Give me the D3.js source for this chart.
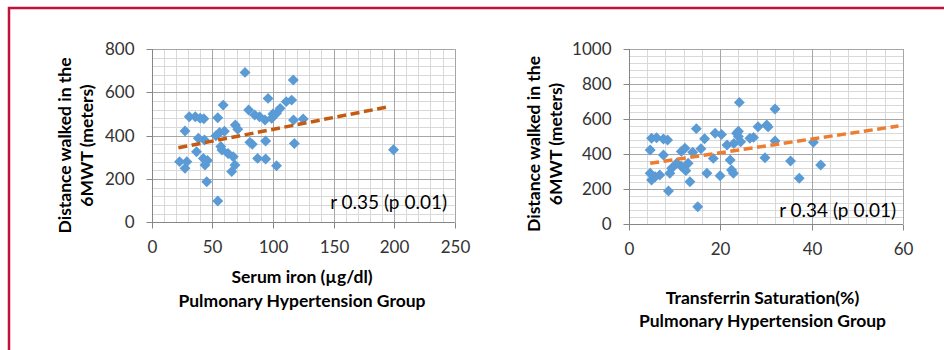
<!DOCTYPE html>
<html>
<head>
<meta charset="utf-8">
<title>6MWT vs iron</title>
<script src="https://cdn.jsdelivr.net/npm/d3@7"></script>
<style>
	body { margin: 0; background: #fff; }
	svg { display: block; font-family: Lato, "Open Sans", sans-serif; }
	.minor { stroke: #d9d9d9; stroke-width: 1; }
	.major { stroke: #a6a6a6; stroke-width: 1; }
	.axis path, .axis line { stroke: #868686; }
	.axis text { font-size: 17px; fill: #333; font-family: Lato, sans-serif; }
	.title { font-size: 17.5px; font-weight: bold; fill: #000; }
	.note { font-size: 19px; fill: #000; }
</style>
</head>
<body>
<svg id="chart" width="944" height="350"></svg>
<script>
// left panel: serum iron (µg/dl) vs distance (m)
var ironX = [77, 116.8, 96, 111, 115.5, 59, 31, 36, 40, 43, 54.5, 80, 85, 89, 93.5, 99, 103, 106, 117, 125,
	27.5, 69, 71, 38.5, 43.5, 56, 60, 53, 81, 83, 94, 117.7, 199.5, 58, 63, 67.3, 37, 23, 29, 27.5,
	42.6, 44, 46, 68.7, 66, 45.4, 54.5, 87.4, 94, 103, 57, 100]
var ironY = [692, 657, 572, 557, 564, 541, 487, 487, 480, 478, 483, 518, 495, 487, 472, 480, 503, 526, 472, 477,
	421, 449, 430, 388, 380, 415, 420, 400, 369, 360, 375, 364, 335, 334, 318, 303, 326, 280, 280, 249,
	295, 264, 285, 264, 234, 187, 98, 295, 292, 261, 350, 500]
var ironTrendX = [22, 196]
var ironTrendY = [344, 534]

// right panel: transferrin saturation (%) vs distance (m)
var satX = [24.2, 32, 14.8, 5, 6.1, 7.6, 8.5, 16.6, 18.9, 20.3, 23.6, 24, 26.5, 27.3, 28.3, 30.2, 30.5, 32,
	4.7, 7.6, 12.3, 11.5, 14, 15.8, 10.5, 9.4, 11.5, 12.5, 4.7, 5.8, 5, 6.8, 9, 8.7, 13.4, 13, 15.1,
	17.1, 20, 22.5, 22.9, 18.5, 22.2, 21.5, 23, 24.5, 29.8, 40.4, 35.4, 37.3, 42, 24]
var satY = [695, 657, 545, 490, 493, 486, 480, 487, 518, 512, 518, 500, 490, 495, 556, 566, 555, 475,
	423, 394, 433, 415, 410, 430, 347, 318, 330, 305, 290, 270, 251, 280, 290, 189, 242, 347, 99,
	290, 276, 309, 290, 375, 366, 451, 460, 470, 379, 467, 360, 261, 337, 530]
var satTrendX = [4.7, 59]
var satTrendY = [347, 560]

var ironXTicks = [0, 50, 100, 150, 200, 250]
var ironYTicks = [0, 200, 400, 600, 800]
var satXTicks = [0, 20, 40, 60]
var satYTicks = [0, 200, 400, 600, 800, 1000]

var yTitle = ['Distance walked in the', '6MWT (meters)']
var groupLabel = 'Pulmonary Hypertension Group'

var svg = d3.select('#chart')

// page frame
svg.append('path')
	.attr('d', 'M9,350V8H944')
	.attr('fill', 'none')
	.attr('stroke', '#c0123c')
	.attr('stroke-width', 2.5)

var diamond = d3.symbol().type(d3.symbolSquare).size(60)

function panel(o) {
	var x = d3.scaleLinear().domain(o.xDomain).range([o.left, o.right])
	var y = d3.scaleLinear().domain(o.yDomain).range([o.bottom, o.top])
	var g = svg.append('g')

	// minor + major grid
	g.selectAll('.mx').data(d3.range(o.xDomain[0], o.xDomain[1] + 0.001, o.xMinor))
		.enter().append('line').attr('class', 'minor')
		.attr('x1', function(d) { return Math.round(x(d)) + 0.5 })
		.attr('x2', function(d) { return Math.round(x(d)) + 0.5 })
		.attr('y1', o.top).attr('y2', o.bottom)
	g.selectAll('.my').data(d3.range(o.yDomain[0], o.yDomain[1] + 0.001, o.yMinor))
		.enter().append('line').attr('class', 'minor')
		.attr('y1', function(d) { return Math.round(y(d)) + 0.5 })
		.attr('y2', function(d) { return Math.round(y(d)) + 0.5 })
		.attr('x1', o.left).attr('x2', o.right)
	g.selectAll('.Mx').data(o.xTicks)
		.enter().append('line').attr('class', 'major')
		.attr('x1', function(d) { return Math.round(x(d)) + 0.5 })
		.attr('x2', function(d) { return Math.round(x(d)) + 0.5 })
		.attr('y1', o.top).attr('y2', o.bottom)
	g.selectAll('.My').data(o.yTicks)
		.enter().append('line').attr('class', 'major')
		.attr('y1', function(d) { return Math.round(y(d)) + 0.5 })
		.attr('y2', function(d) { return Math.round(y(d)) + 0.5 })
		.attr('x1', o.left).attr('x2', o.right)

	// axes
	var xa = g.append('g').attr('class', 'axis')
		.attr('transform', 'translate(0,' + (Math.round(y(0)) + 0.5) + ')')
		.call(d3.axisBottom(x).tickValues(o.xTicks).tickFormat(d3.format('d'))
			.tickSizeInner(6).tickSizeOuter(0).tickPadding(12))
	xa.select('.domain').remove()
	xa.append('line').attr('x1', o.left).attr('x2', o.right).attr('stroke', '#868686')
	xa.selectAll('.tick').attr('transform', function(d) { return 'translate(' + (Math.round(x(d)) + 0.5) + ',0)' })

	var ya = g.append('g').attr('class', 'axis')
		.attr('transform', 'translate(' + (Math.round(x(0)) + 0.5) + ',0)')
		.call(d3.axisLeft(y).tickValues(o.yTicks).tickFormat(d3.format('d'))
			.tickSizeInner(6).tickSizeOuter(0).tickPadding(12))
	ya.select('.domain').remove()
	ya.append('line').attr('y1', o.top).attr('y2', o.bottom).attr('stroke', '#868686')
	ya.selectAll('.tick').attr('transform', function(d) { return 'translate(0,' + (Math.round(y(d)) + 0.5) + ')' })

	// points
	g.selectAll('.pt').data(o.xs)
		.enter().append('path')
		.attr('d', diamond)
		.attr('fill', '#5b9bd5')
		.attr('transform', function(d, i) {
			return 'translate(' + x(d) + ',' + y(o.ys[i]) + ') rotate(45)'
		})

	// trend line
	g.append('path')
		.datum(d3.zip(o.trendX, o.trendY))
		.attr('d', d3.line().x(function(d) { return x(d[0]) }).y(function(d) { return y(d[1]) }))
		.attr('fill', 'none')
		.attr('stroke', o.trendColor)
		.attr('stroke-width', 3.5)
		.attr('stroke-dasharray', '9,4.5')

	g.append('text').attr('class', 'note')
		.attr('x', o.noteX).attr('y', o.noteY).attr('dy', '0.35em')
		.attr('text-anchor', 'end')
		.text(o.note)

	// titles
	o.yTitle.forEach(function(t, i) {
		g.append('text').attr('class', 'title')
			.attr('transform', 'translate(' + o.yTitleX[i] + ',' + o.yTitleY + ') rotate(-90)')
			.attr('dy', '0.35em')
			.attr('text-anchor', 'middle')
			.text(t)
	})
	o.xTitle.forEach(function(t, i) {
		g.append('text').attr('class', 'title')
			.attr('x', o.xTitleX).attr('y', o.xTitleY[i]).attr('dy', '0.35em')
			.attr('text-anchor', 'middle')
			.text(t)
	})
}

panel({
	xDomain: [0, 250], yDomain: [0, 800], xMinor: 10, yMinor: 40,
	left: 151.7, right: 454.7, top: 49, bottom: 222.3,
	xTicks: ironXTicks, yTicks: ironYTicks,
	xs: ironX, ys: ironY, trendX: ironTrendX, trendY: ironTrendY, trendColor: '#c55a11',
	note: 'r 0.35 (p 0.01)', noteX: 447, noteY: 202,
	yTitle: yTitle, yTitleX: [65, 87], yTitleY: 145.5,
	xTitle: ['Serum iron (µg/dl)', groupLabel], xTitleX: 302, xTitleY: [277, 301]
})

panel({
	xDomain: [0, 60], yDomain: [0, 1000], xMinor: 4, yMinor: 40,
	left: 628.7, right: 903, top: 49, bottom: 224,
	xTicks: satXTicks, yTicks: satYTicks,
	xs: satX, ys: satY, trendX: satTrendX, trendY: satTrendY, trendColor: '#ed7d31',
	note: 'r 0.34 (p 0.01)', noteX: 896, noteY: 210.7,
	yTitle: yTitle, yTitleX: [534, 555.5], yTitleY: 144,
	xTitle: ['Transferrin Saturation(%)', groupLabel], xTitleX: 762.5, xTitleY: [297.7, 321]
})
</script>
</body>
</html>
